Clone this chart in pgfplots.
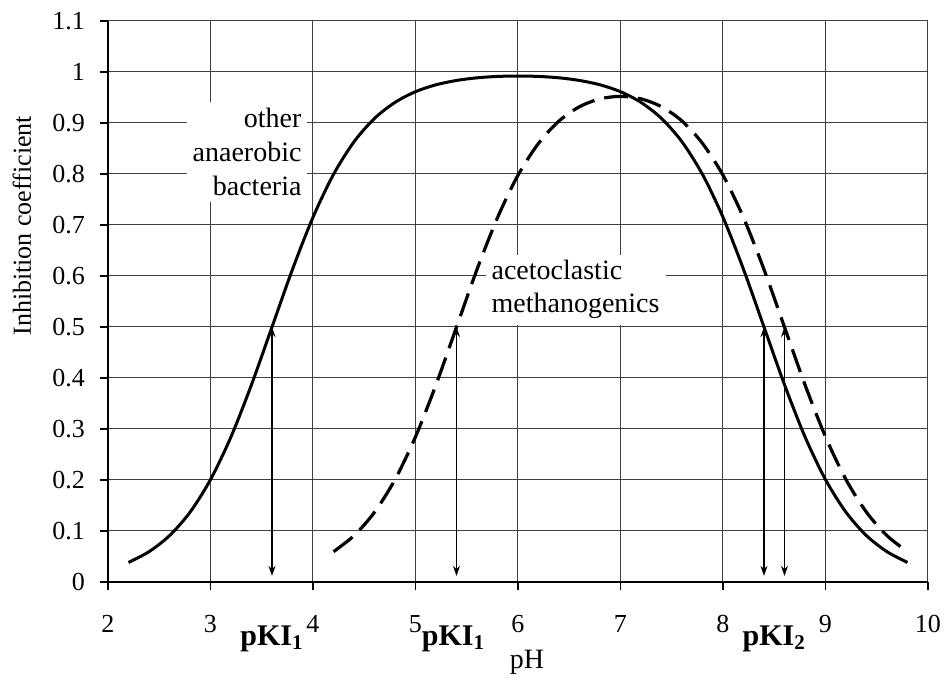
\documentclass[border=0pt]{standalone}
\usepackage{fontspec}
\setmainfont{Liberation Serif}
\usepackage{pgfplots}
\pgfplotsset{compat=1.18}
\usetikzlibrary{arrows.meta}

\pgfplotstableread{
x y
2.2 0.0383
2.4 0.0594
2.6 0.0909
2.8 0.1368
3.0 0.2008
3.2 0.2847
3.4 0.3869
3.6 0.5000
3.8 0.6131
4.0 0.7152
4.2 0.7992
4.4 0.8631
4.6 0.9090
4.8 0.9404
5.0 0.9614
5.2 0.9749
5.4 0.9834
5.6 0.9886
5.8 0.9913
6.0 0.9921
6.2 0.9913
6.4 0.9886
6.6 0.9834
6.8 0.9749
7.0 0.9614
7.2 0.9404
7.4 0.9090
7.6 0.8631
7.8 0.7992
8.0 0.7152
8.2 0.6131
8.4 0.5000
8.6 0.3869
8.8 0.2847
9.0 0.2008
9.2 0.1368
9.4 0.0909
9.6 0.0594
9.8 0.0383
}\other

\pgfplotstableread{
x y
4.2 0.0594
4.4 0.0909
4.6 0.1368
4.8 0.2008
5.0 0.2847
5.2 0.3868
5.4 0.4998
5.6 0.6128
5.8 0.7144
6.0 0.7976
6.2 0.8600
6.4 0.9039
6.6 0.9319
6.8 0.9473
7.0 0.9522
7.2 0.9473
7.4 0.9319
7.6 0.9039
7.8 0.8600
8.0 0.7976
8.2 0.7144
8.4 0.6128
8.6 0.4998
8.8 0.3868
9.0 0.2847
9.2 0.2008
9.4 0.1368
9.6 0.0909
9.8 0.0594
}\aceto

\begin{document}
\begin{tikzpicture}
\useasboundingbox (-54pt,-52pt) rectangle (418pt,291pt);
\begin{axis}[
  scale only axis, width=410pt, height=280.5pt,
  at={(0,0)}, anchor=south west,
  xmin=2, xmax=10, ymin=0, ymax=1.1,
  axis lines=left, axis line style={-, line width=1pt, black},
  xtick={2,3,4,5,6,7,8,9,10},
  ytick={0,0.1,0.2,0.3,0.4,0.5,0.6,0.7,0.8,0.9,1,1.1},
  yticklabels={0,0.1,0.2,0.3,0.4,0.5,0.6,0.7,0.8,0.9,1,1.1},
  grid=major, major grid style={black!75, line width=0.5pt},
  tick align=outside, major tick length=4pt,
  tick style={black, line width=0.6pt},
  /pgf/number format/assume math mode=true,
  ticklabel style={font=\fontsize{13}{15}\selectfont},
  xticklabel style={yshift=-9pt},
  yticklabel style={xshift=-4pt},
  label style={font=\fontsize{13}{15}\selectfont},
  xlabel={pH}, ylabel={Inhibition coefficient},
  xlabel style={at={(axis description cs:0.511,-0.143)}, anchor=center, font=\fontsize{14}{16}\selectfont},
  ylabel style={at={(axis description cs:-0.105,0.635)}, anchor=center},
  clip=false,
]
\node[fill=white, align=right, anchor=east, inner sep=3pt,
      font=\fontsize{14}{17}\selectfont] at (axis cs:3.95,0.843) {other\\anaerobic\\bacteria};
\node[fill=white, align=left, anchor=west, inner sep=3pt,
      font=\fontsize{14}{16.5}\selectfont] at (axis cs:5.68,0.573) {acetoclastic\\methanogenics};

\addplot[black, line width=1.6pt, dash pattern=on 12pt off 5pt, smooth] table[x=x,y=y] {\aceto};
\addplot[black, line width=1.5pt, smooth] table[x=x,y=y] {\other};

\addplot[black, line width=0.8pt, arrows={Stealth[length=5pt,width=3.5pt]-Stealth[length=5pt,width=3.5pt]}] coordinates {(3.6,0.5) (3.6,0.012)};
\addplot[black, line width=0.8pt, arrows={Stealth[length=5pt,width=3.5pt]-Stealth[length=5pt,width=3.5pt]}] coordinates {(5.4,0.5) (5.4,0.012)};
\addplot[black, line width=0.8pt, arrows={Stealth[length=5pt,width=3.5pt]-Stealth[length=5pt,width=3.5pt]}] coordinates {(8.4,0.5) (8.4,0.012)};
\addplot[black, line width=0.8pt, arrows={Stealth[length=5pt,width=3.5pt]-Stealth[length=5pt,width=3.5pt]}] coordinates {(8.6,0.5) (8.6,0.012)};

\node[anchor=base, font=\fontsize{15}{18}\selectfont\bfseries] at (axis cs:3.6,-0.124) {pKI\textsubscript{1}};
\node[anchor=base, font=\fontsize{15}{18}\selectfont\bfseries] at (axis cs:5.37,-0.124) {pKI\textsubscript{1}};
\node[anchor=base, font=\fontsize{15}{18}\selectfont\bfseries] at (axis cs:8.5,-0.124) {pKI\textsubscript{2}};
\end{axis}
\end{tikzpicture}
\end{document}
